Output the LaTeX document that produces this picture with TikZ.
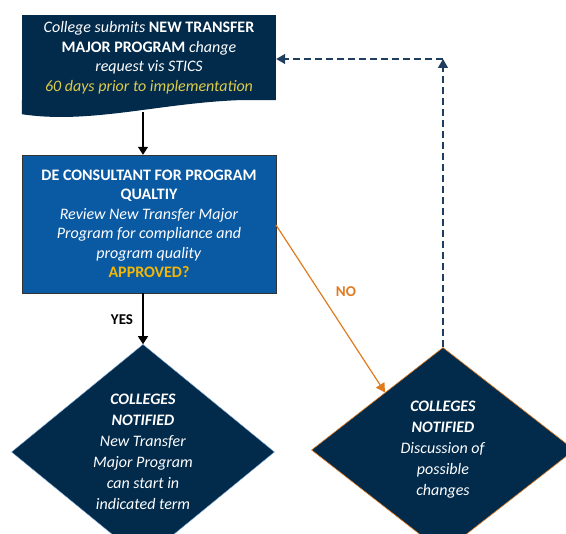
\documentclass[tikz,border=0pt]{standalone}
\usepackage{fontspec}
\setmainfont{Carlito}
\usetikzlibrary{shapes.geometric,arrows.meta,calc}
\definecolor{navy}{HTML}{022A4B}
\definecolor{boxblue}{HTML}{0A5AA3}
\definecolor{paleyellow}{HTML}{DCCB4C}
\definecolor{gold}{HTML}{F2B705}
\definecolor{noorange}{HTML}{E07A1F}
\definecolor{dashblue}{HTML}{1F3D5E}
\definecolor{glow}{HTML}{7FA8D4}
\begin{document}
\begin{tikzpicture}[
        x=1pt, y=-1pt,
        font=\fontsize{16}{19.5}\selectfont
    ]
    \tikzset{
        docnode/.style = {rectangle, fill=navy, text=white, align=center,
            minimum width=254pt, minimum height=85pt, inner sep=0pt},
        boxnode/.style = {rectangle, fill=boxblue, draw=black!80, thin, text=white,
            align=center, minimum width=254pt, minimum height=138pt, inner sep=0pt},
        dianode/.style = {diamond, fill=navy, text=white, align=center,
            minimum width=263pt, minimum height=205pt, inner sep=0pt,
            font=\fontsize{16}{21}\selectfont},
        myarrow/.style = {-{Triangle[width=10pt,length=8pt]}, line width=1.2pt, black},
        noarrow/.style = {-{Triangle[width=10pt,length=9pt]}, line width=1.2pt, noorange},
        backarrow/.style = {-{Triangle[width=10pt,length=9pt]}, line width=1.2pt, dashblue,
            dash pattern=on 7pt off 4pt},
        mylabel/.style = {font=\fontsize{15}{18}\selectfont\bfseries},
    }
    \useasboundingbox (0,0) rectangle (566,534);
    \clip (0,0) rectangle (566,534);
    %
    \node[docnode] at (149,57.5) (doc) {\textit{College submits} \textbf{NEW TRANSFER}\\
        \textbf{MAJOR PROGRAM} \textit{change}\\
        \textit{request vis STICS}\\
        \textit{\color{paleyellow}60 days prior to implementation}};
    \fill[navy] (doc.south west) -- ++(0,14) .. controls (100,126) and (180,96)
        .. (doc.south east) -- cycle;
    \node[boxnode] at (149,224) (box) {\textbf{DE CONSULTANT FOR PROGRAM}\\
        \textbf{QUALTIY}\\
        \textit{Review New Transfer Major}\\
        \textit{Program for compliance and}\\
        \textit{program quality}\\
        \textbf{\color{gold}APPROVED?}};
    \node[dianode, draw=glow, thin] at (143,452) (yesdia) {\textbf{\textit{COLLEGES}}\\
        \textbf{\textit{NOTIFIED}}\\
        \textit{New Transfer}\\
        \textit{Major Program}\\
        \textit{can start in}\\
        \textit{indicated term}};
    \node[dianode, draw=noorange, semithick] at (443,450) (nodia) {\textbf{\textit{COLLEGES}}\\
        \textbf{\textit{NOTIFIED}}\\
        \textit{Discussion of}\\
        \textit{possible}\\
        \textit{changes}};
    \node[mylabel] at (122,320) (yeslabel) {YES};
    \node[mylabel, text=noorange] at (346,292) (nolabel) {NO};
    %
    \coordinate (docb) at (143,112);
    \coordinate (boxr) at (276,225);
    \coordinate (noend) at ($(nodia.west)!0.56!(nodia.north)$);
    \coordinate (corner) at (443,59);
    %
    \draw[myarrow] (docb) -- (docb |- box.north);
    \draw[myarrow] (docb |- box.south) -- (yesdia.north);
    \draw[noarrow] (boxr) -- (noend);
    \draw[backarrow] (nodia.north) -- (corner);
    \draw[backarrow] (corner) -- (corner -| doc.east);
\end{tikzpicture}
\end{document}
